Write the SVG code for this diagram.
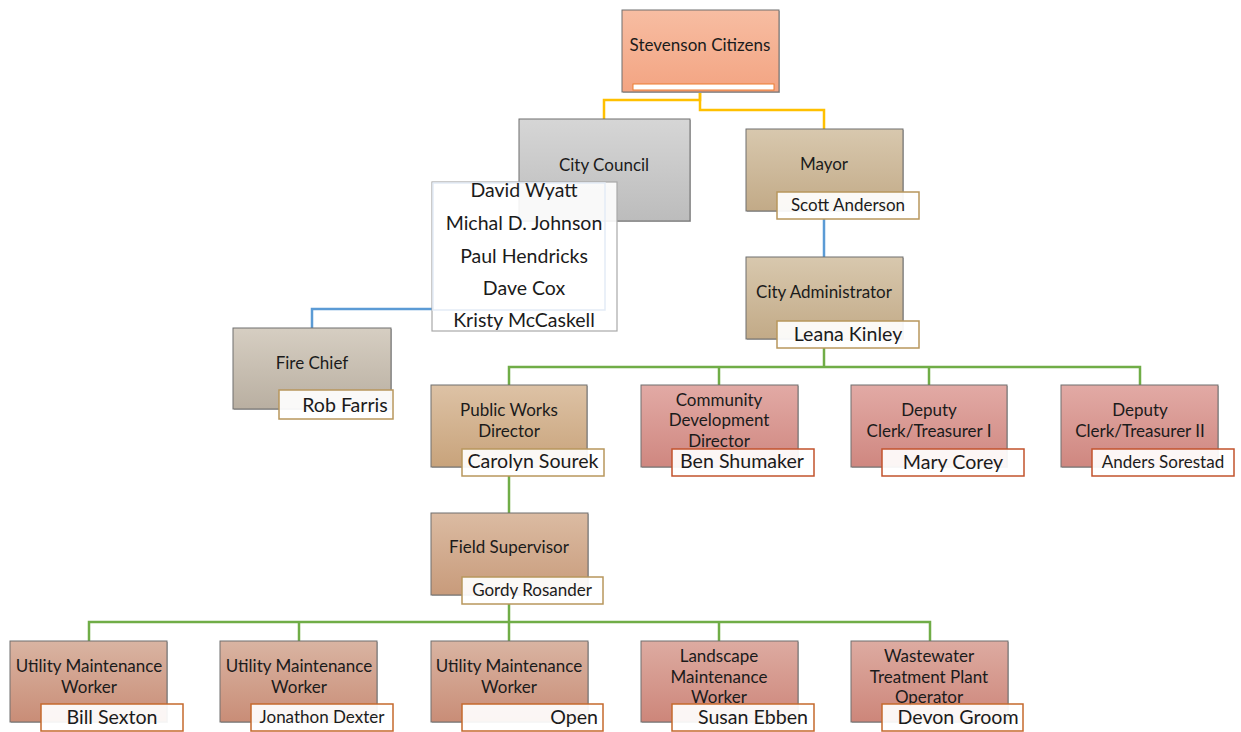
<svg xmlns="http://www.w3.org/2000/svg" width="1241" height="732" viewBox="0 0 1241 732">
<defs>
<linearGradient id="gCit" x1="0" y1="0" x2="0" y2="1"><stop offset="0" stop-color="#f7bda2"/><stop offset="1" stop-color="#f3a482"/></linearGradient>
<linearGradient id="gCouncil" x1="0" y1="0" x2="0" y2="1"><stop offset="0" stop-color="#d6d6d6"/><stop offset="1" stop-color="#bcbcbc"/></linearGradient>
<linearGradient id="gFire" x1="0" y1="0" x2="0" y2="1"><stop offset="0" stop-color="#d6cec2"/><stop offset="1" stop-color="#b9afa1"/></linearGradient>
<linearGradient id="gMayor" x1="0" y1="0" x2="0" y2="1"><stop offset="0" stop-color="#d8c8ae"/><stop offset="1" stop-color="#c2aa87"/></linearGradient>
<linearGradient id="gPW" x1="0" y1="0" x2="0" y2="1"><stop offset="0" stop-color="#ddc2a5"/><stop offset="1" stop-color="#c8a37b"/></linearGradient>
<linearGradient id="gFS" x1="0" y1="0" x2="0" y2="1"><stop offset="0" stop-color="#dbbba2"/><stop offset="1" stop-color="#c89b7b"/></linearGradient>
<linearGradient id="gRed" x1="0" y1="0" x2="0" y2="1"><stop offset="0" stop-color="#e2aaa5"/><stop offset="1" stop-color="#cf8780"/></linearGradient>
<linearGradient id="gUMW" x1="0" y1="0" x2="0" y2="1"><stop offset="0" stop-color="#d9b4a2"/><stop offset="1" stop-color="#c98d77"/></linearGradient>
<linearGradient id="gPink" x1="0" y1="0" x2="0" y2="1"><stop offset="0" stop-color="#ddaba1"/><stop offset="1" stop-color="#cd867a"/></linearGradient>
</defs>
<style>
.box{stroke:#6f6f6f;stroke-width:1}
.sh{fill:#bdbdbd}
.nm{fill:#ffffff;fill-opacity:0.92;stroke-width:1.5}
.tan{stroke:#b8975c}
.org{stroke:#c5692c}
.red{stroke:#c2532c}
text{font-family:Lato,"Liberation Sans",sans-serif;fill:#1b1b1b}
.lb{font-size:17px;text-anchor:middle}
.n19{font-size:19.6px;text-anchor:middle}
.n16{font-size:17px;text-anchor:middle}
.mb{font-size:19.5px;text-anchor:middle}
.con{fill:none;stroke-width:2.5}
.y{stroke:#ffc000}
.b{stroke:#5b9bd5}
.g{stroke:#70ad47}
</style>

<g id="connectors">
<polyline class="con y" points="700,92 700,100 604,100 604,119"/>
<polyline class="con y" points="700,92 700,110 824,110 824,129"/>
<polyline class="con b" points="824,219 824,257"/>
<polyline class="con b" points="312,328 312,309 432,309"/>
<polyline class="con g" points="824,348 824,367"/>
<polyline class="con g" points="509,385 509,367 1140,367 1140,385"/>
<polyline class="con g" points="719,367 719,385"/>
<polyline class="con g" points="929,367 929,385"/>
<polyline class="con g" points="509,476 509,513"/>
<polyline class="con g" points="509,604 509,641"/>
<polyline class="con g" points="89,641 89,622 930,622 930,641"/>
<polyline class="con g" points="299,622 299,641"/>
<polyline class="con g" points="719,622 719,641"/>
</g>

<g id="citizens">
<rect class="sh" x="623" y="11" width="157" height="82"/>
<rect class="box" x="622" y="10" width="157" height="82" fill="url(#gCit)"/>
<text class="lb" x="700" y="51">Stevenson Citizens</text>
<rect x="633" y="84" width="141" height="6" fill="#fff" stroke="#ed7d31" stroke-width="1"/>
</g>

<g id="council">
<rect class="sh" x="520" y="120" width="171" height="102"/>
<rect class="box" x="519" y="119" width="171" height="102" fill="url(#gCouncil)"/>
<text class="lb" x="604" y="171">City Council</text>
</g>

<g id="members">
<rect x="432" y="182" width="185" height="149" fill="#ffffff" fill-opacity="0.9" stroke="#a9a9a9" stroke-width="1.2"/>
<rect x="433" y="183" width="172" height="127" fill="none" stroke="#e3ebf6" stroke-width="1.5"/>
<text class="mb" x="524" y="197">David Wyatt</text>
<text class="mb" x="524" y="230">Michal D. Johnson</text>
<text class="mb" x="524" y="263">Paul Hendricks</text>
<text class="mb" x="524" y="295">Dave Cox</text>
<text class="mb" x="524" y="327">Kristy McCaskell</text>
</g>

<g id="firechief">
<rect class="sh" x="234" y="329" width="158" height="81"/>
<rect class="box" x="233" y="328" width="158" height="81" fill="url(#gFire)"/>
<text class="lb" x="312" y="369">Fire Chief</text>
<rect class="nm tan" x="279" y="390" width="114" height="29"/>
<text class="n19" x="345" y="412">Rob Farris</text>
</g>

<g id="mayor">
<rect class="sh" x="747" y="130" width="157" height="82"/>
<rect class="box" x="746" y="129" width="157" height="82" fill="url(#gMayor)"/>
<text class="lb" x="824" y="170">Mayor</text>
<rect class="nm tan" x="777" y="192" width="142" height="27"/>
<text class="n16" x="848" y="211">Scott Anderson</text>
</g>

<g id="admin">
<rect class="sh" x="747" y="258" width="157" height="82"/>
<rect class="box" x="746" y="257" width="157" height="82" fill="url(#gMayor)"/>
<text class="lb" x="824" y="298">City Administrator</text>
<rect class="nm tan" x="777" y="321" width="142" height="27"/>
<text class="n19" x="848" y="341">Leana Kinley</text>
</g>

<g id="publicworks">
<rect class="sh" x="432" y="386" width="156" height="82"/>
<rect class="box" x="431" y="385" width="156" height="82" fill="url(#gPW)"/>
<text class="lb" x="509" y="416">Public Works</text>
<text class="lb" x="509" y="437">Director</text>
<rect class="nm tan" x="462" y="449" width="142" height="27"/>
<text class="n19" x="533" y="468">Carolyn Sourek</text>
</g>

<g id="commdev">
<rect class="sh" x="642" y="386" width="157" height="82"/>
<rect class="box" x="641" y="385" width="157" height="82" fill="url(#gRed)"/>
<text class="lb" x="719" y="406">Community</text>
<text class="lb" x="719" y="426">Development</text>
<text class="lb" x="719" y="447">Director</text>
<rect class="nm red" x="672" y="449" width="142" height="27"/>
<text class="n19" x="742" y="468">Ben Shumaker</text>
</g>

<g id="deputy1">
<rect class="sh" x="852" y="386" width="156" height="82"/>
<rect class="box" x="851" y="385" width="156" height="82" fill="url(#gRed)"/>
<text class="lb" x="929" y="416">Deputy</text>
<text class="lb" x="929" y="437">Clerk/Treasurer I</text>
<rect class="nm red" x="882" y="449" width="142" height="27"/>
<text class="n19" x="953" y="469">Mary Corey</text>
</g>

<g id="deputy2">
<rect class="sh" x="1062" y="386" width="157" height="82"/>
<rect class="box" x="1061" y="385" width="157" height="82" fill="url(#gRed)"/>
<text class="lb" x="1140" y="416">Deputy</text>
<text class="lb" x="1140" y="437">Clerk/Treasurer II</text>
<rect class="nm red" x="1092" y="449" width="142" height="27"/>
<text class="n16" x="1163" y="468">Anders Sorestad</text>
</g>

<g id="fieldsup">
<rect class="sh" x="432" y="514" width="157" height="82"/>
<rect class="box" x="431" y="513" width="157" height="82" fill="url(#gFS)"/>
<text class="lb" x="509" y="553">Field Supervisor</text>
<rect class="nm tan" x="462" y="577" width="141" height="27"/>
<text class="n16" x="532" y="596">Gordy Rosander</text>
</g>

<g id="umw1">
<rect class="sh" x="11" y="642" width="157" height="81"/>
<rect class="box" x="10" y="641" width="157" height="81" fill="url(#gUMW)"/>
<text class="lb" x="89" y="672">Utility Maintenance</text>
<text class="lb" x="89" y="693">Worker</text>
<rect class="nm org" x="41" y="704" width="142" height="27"/>
<text class="n19" x="112" y="724">Bill Sexton</text>
</g>

<g id="umw2">
<rect class="sh" x="221" y="642" width="157" height="81"/>
<rect class="box" x="220" y="641" width="157" height="81" fill="url(#gUMW)"/>
<text class="lb" x="299" y="672">Utility Maintenance</text>
<text class="lb" x="299" y="693">Worker</text>
<rect class="nm org" x="251" y="704" width="142" height="27"/>
<text class="n16" x="322" y="723">Jonathon Dexter</text>
</g>

<g id="umw3">
<rect class="sh" x="432" y="642" width="157" height="81"/>
<rect class="box" x="431" y="641" width="157" height="81" fill="url(#gUMW)"/>
<text class="lb" x="509" y="672">Utility Maintenance</text>
<text class="lb" x="509" y="693">Worker</text>
<rect class="nm org" x="462" y="704" width="141" height="27"/>
<text class="n19" x="598" y="724" style="text-anchor:end">Open</text>
</g>

<g id="landscape">
<rect class="sh" x="642" y="642" width="157" height="81"/>
<rect class="box" x="641" y="641" width="157" height="81" fill="url(#gPink)"/>
<text class="lb" x="719" y="662">Landscape</text>
<text class="lb" x="719" y="683">Maintenance</text>
<text class="lb" x="719" y="703">Worker</text>
<rect class="nm org" x="672" y="704" width="142" height="27"/>
<text class="n19" x="753" y="724">Susan Ebben</text>
</g>

<g id="wastewater">
<rect class="sh" x="852" y="642" width="157" height="81"/>
<rect class="box" x="851" y="641" width="157" height="81" fill="url(#gPink)"/>
<text class="lb" x="929" y="662">Wastewater</text>
<text class="lb" x="929" y="683">Treatment Plant</text>
<text class="lb" x="929" y="703">Operator</text>
<rect class="nm org" x="882" y="704" width="141" height="27"/>
<text class="n19" x="958" y="724">Devon Groom</text>
</g>
</svg>
